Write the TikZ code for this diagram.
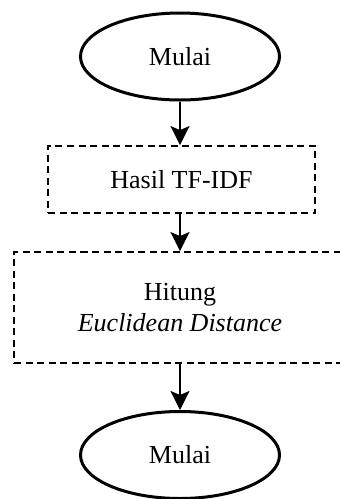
\documentclass[tikz,border=0pt]{standalone}
\usepackage{fontspec}
\setmainfont{Liberation Serif}
\usetikzlibrary{shapes.geometric,arrows.meta}
\begin{document}
\begin{tikzpicture}[x=1pt,y=-1pt,
  terminal/.style={ellipse,draw,line width=3pt,minimum width=199pt,minimum height=87pt,inner sep=0pt,
    font=\fontsize{26}{31}\selectfont},
  process/.style={rectangle,draw,line width=1.8pt,dash pattern=on 7pt off 4.5pt,inner sep=0pt,
    align=center,font=\fontsize{26}{31}\selectfont},
  flow/.style={line width=2pt,-{Stealth[length=19pt,width=19pt,inset=4pt]}}]
  \useasboundingbox (0,0) rectangle (340,499);
  \begin{scope}
    \clip (0,0) rectangle (340,499);
    \node[terminal] (start) at (180,56.5) {Mulai};
    \node[process,minimum width=267pt,minimum height=67pt] (tfidf) at (181.5,179.5) {Hasil TF-IDF};
    \node[process,minimum width=332pt,minimum height=111pt] (dist) at (180,307.5) {Hitung\\\textit{Euclidean Distance}};
    \node[terminal] (stop) at (180,455) {Mulai};
  \end{scope}
  \draw[flow] (start.south) -- (start.south |- tfidf.north);
  \draw[flow] (tfidf.south -| dist.north) -- (dist.north);
  \draw[flow] (dist.south) -- (stop.north);
\end{tikzpicture}
\end{document}
